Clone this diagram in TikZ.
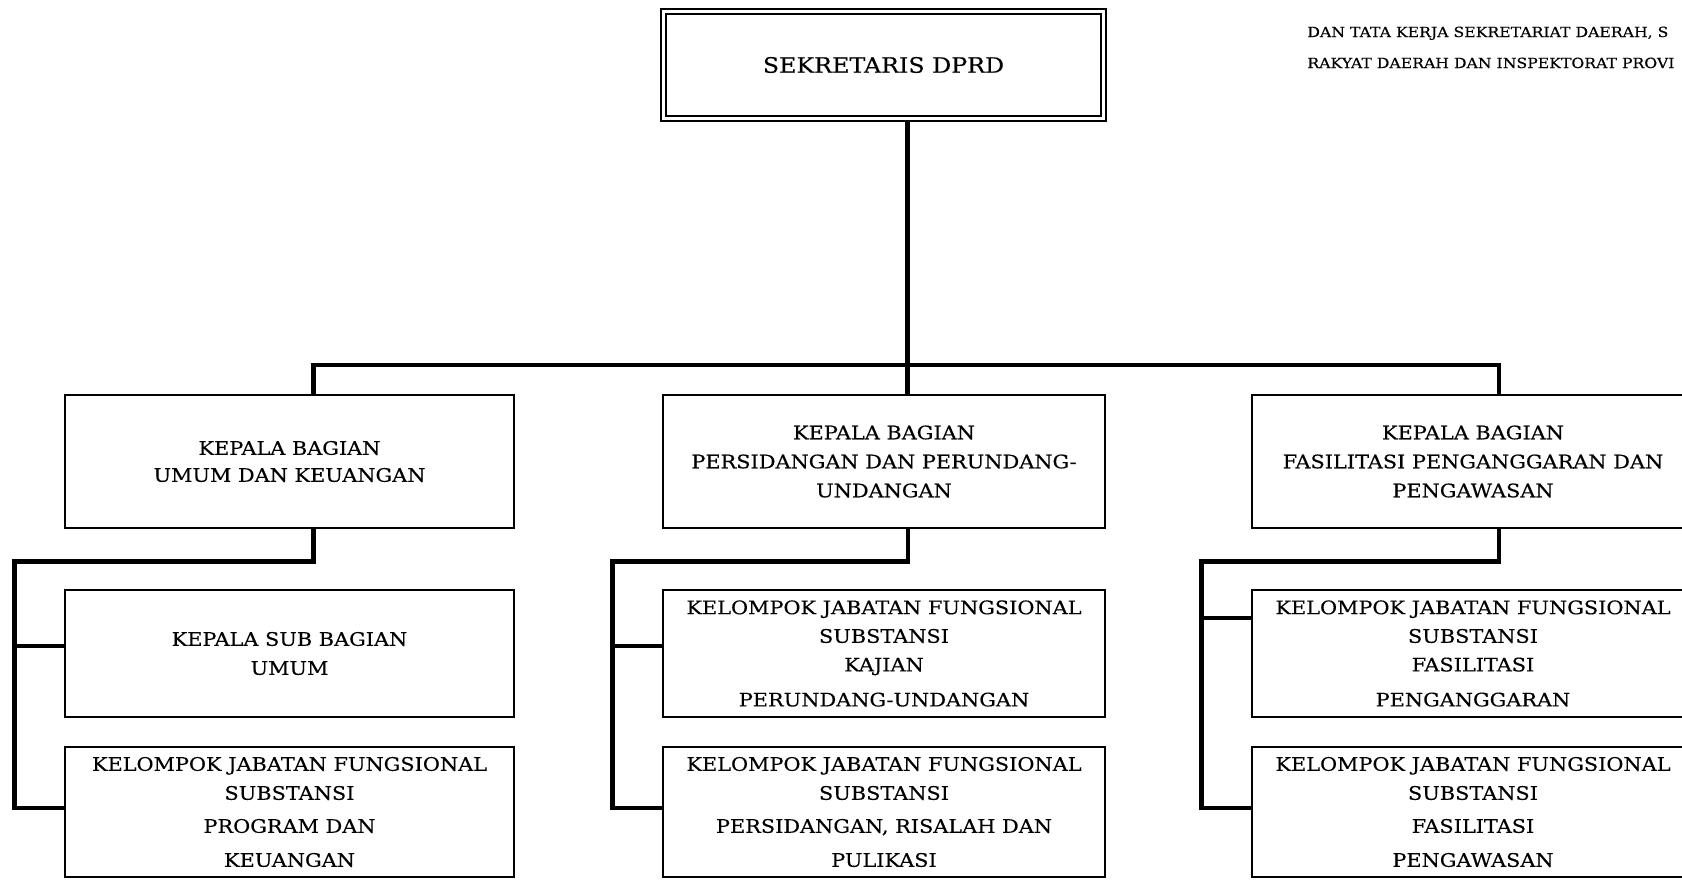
\documentclass[tikz,border=0pt]{standalone}
\usepackage{fontspec}
\setmainfont{DejaVu Serif}[FakeStretch=1.12, FakeBold=0.35]
\begin{document}
\begin{tikzpicture}[x=0.5pt, y=-0.5pt,
  box/.style = {draw, line width=1.4pt, align=center, font=\fontsize{9.3}{14.5}\selectfont},
  head/.style = {draw, double, line width=0.9pt, double distance=1.5pt, minimum width=220.2pt, minimum height=53.7pt, font=\fontsize{10.6}{13}\selectfont},
  link/.style = {line width=2.2pt},
  note/.style = {anchor=base west, inner sep=0pt, font=\fontsize{7}{9}\selectfont}]

\clip (0,0) rectangle (1682,879);

\node[head] (1) at (883.5,65) {SEKRETARIS DPRD};

\node[box, minimum width=224.5pt, minimum height=66.5pt] (2) at (289.5,461.5) {KEPALA BAGIAN\\[-1pt]UMUM DAN KEUANGAN};
\node[box, minimum width=221pt, minimum height=66.5pt] (3) [right of=2, node distance=297.25pt] {KEPALA BAGIAN\\PERSIDANGAN DAN PERUNDANG-\\UNDANGAN};
\node[box, minimum width=221pt, minimum height=66.5pt] (4) [right of=3, node distance=294.5pt] {KEPALA BAGIAN\\FASILITASI PENGANGGARAN DAN\\PENGAWASAN};

\node[box, minimum width=224.5pt, minimum height=63.5pt] (5) [below of=2, node distance=96pt] {KEPALA SUB BAGIAN\\UMUM};
\node[box, minimum width=221pt, minimum height=63.5pt] (6) [below of=3, node distance=96pt] {KELOMPOK JABATAN FUNGSIONAL\\[-0.2pt]SUBSTANSI\\[-0.2pt]KAJIAN\\[3pt]PERUNDANG-UNDANGAN};
\node[box, minimum width=221pt, minimum height=63.5pt] (7) [below of=4, node distance=96pt] {KELOMPOK JABATAN FUNGSIONAL\\[-0.2pt]SUBSTANSI\\[-0.2pt]FASILITASI\\[3pt]PENGANGGARAN};

\node[box, minimum width=224.5pt, minimum height=65pt] (8) [below of=5, node distance=79.25pt] {KELOMPOK JABATAN FUNGSIONAL\\SUBSTANSI\\[2pt]PROGRAM DAN\\[2.5pt]KEUANGAN};
\node[box, minimum width=221pt, minimum height=65pt] (9) [below of=6, node distance=79.25pt] {KELOMPOK JABATAN FUNGSIONAL\\SUBSTANSI\\[2pt]PERSIDANGAN, RISALAH DAN\\[2.5pt]PULIKASI};
\node[box, minimum width=221pt, minimum height=65pt] (10) [below of=7, node distance=79.25pt] {KELOMPOK JABATAN FUNGSIONAL\\SUBSTANSI\\[2pt]FASILITASI\\[2.5pt]PENGAWASAN};

\node[note] (11) at (1307,37) {DAN TATA KERJA SEKRETARIAT DAERAH, S};
\node[note] (12) at (1307,68) {RAKYAT DAERAH DAN INSPEKTORAT PROVI};

\coordinate (bus) at (907.5,365);
\coordinate (a) at ([xshift=-24.5pt, yshift=-16pt]2.south west);
\coordinate (b) at ([xshift=-24.5pt, yshift=-16pt]3.south west);
\coordinate (c) at ([xshift=-24.5pt, yshift=-16pt]4.south west);

\draw[link] (1.south -| bus) -- (bus |- 3.north);
\draw[link] ([xshift=12pt]2.north) |- (bus) -| ([xshift=13pt]4.north);

\draw[link] ([xshift=12pt]2.south) |- (a) |- ([yshift=2pt]8.west);
\draw[link] ([yshift=3.75pt]5.west) -| (a);

\draw[link] ([xshift=12pt]3.south) |- (b) |- ([yshift=2pt]9.west);
\draw[link] ([yshift=3.75pt]6.west) -| (b);

\draw[link] ([xshift=13pt]4.south) |- (c) |- ([yshift=2pt]10.west);
\draw[link] ([yshift=17.75pt]7.west) -| (c);

\end{tikzpicture}
\end{document}
